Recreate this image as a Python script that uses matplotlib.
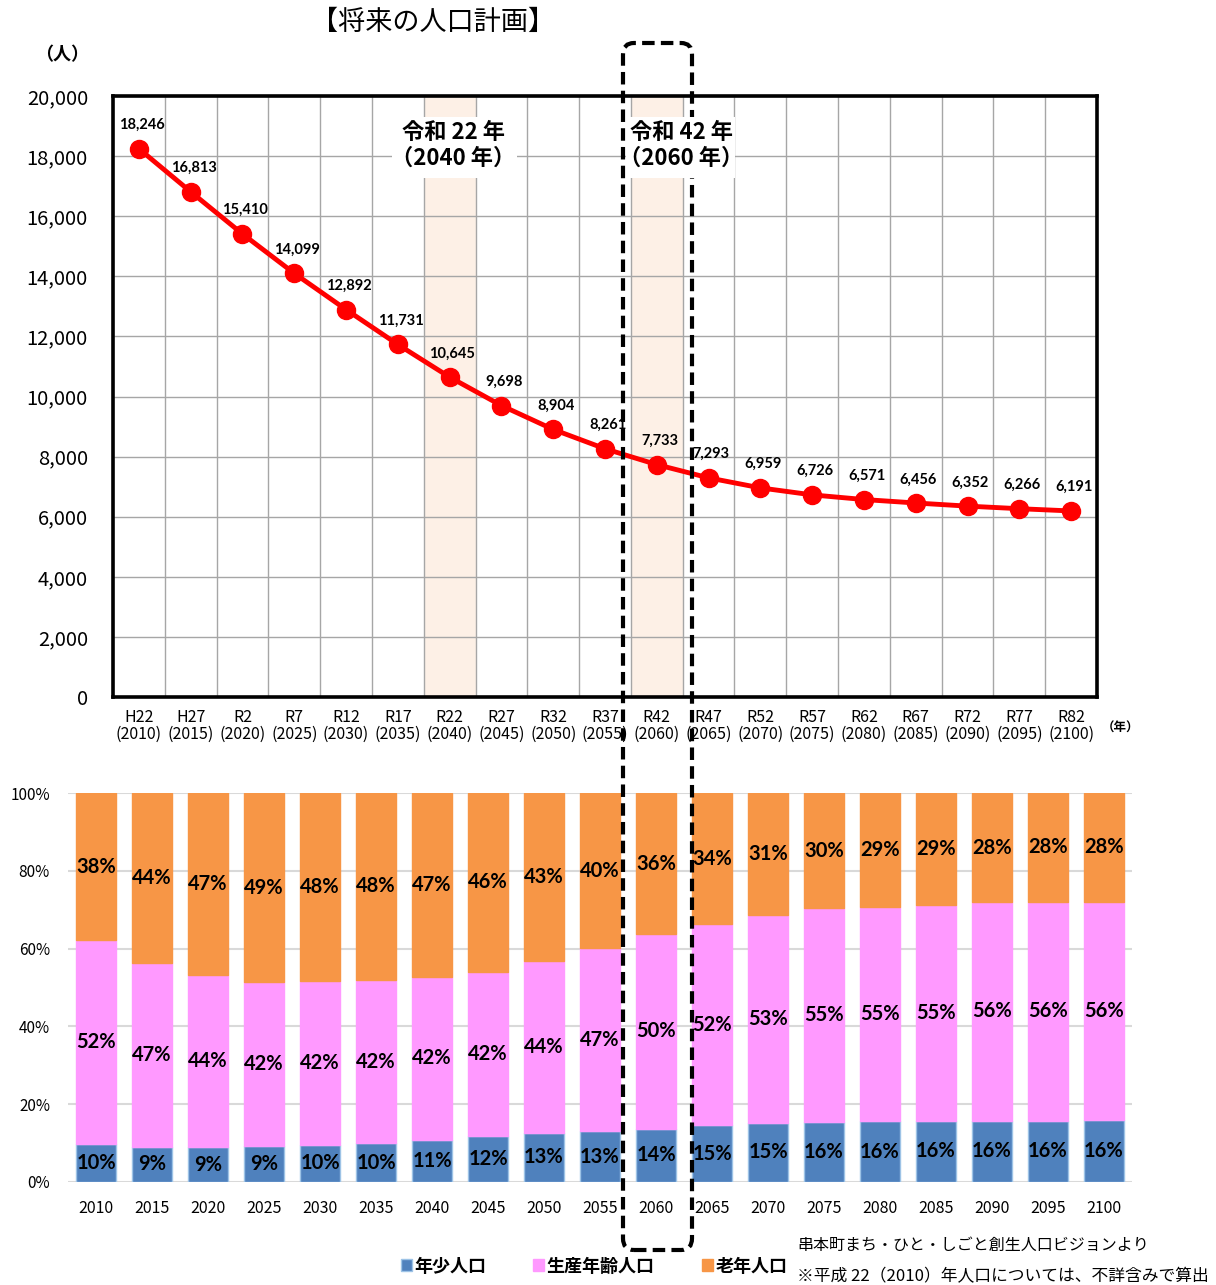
import matplotlib
matplotlib.use("Agg")
import matplotlib.pyplot as plt
from matplotlib.patches import FancyBboxPatch, Patch, Rectangle
import numpy as np

plt.rcParams['font.family'] = ['Noto Sans CJK JP', 'DejaVu Sans']

# ---------------- data ----------------
wareki = ["H22", "H27", "R2", "R7", "R12", "R17", "R22", "R27", "R32", "R37",
          "R42", "R47", "R52", "R57", "R62", "R67", "R72", "R77", "R82"]
years = [2010, 2015, 2020, 2025, 2030, 2035, 2040, 2045, 2050, 2055,
         2060, 2065, 2070, 2075, 2080, 2085, 2090, 2095, 2100]
population = [18246, 16813, 15410, 14099, 12892, 11731, 10645, 9698, 8904, 8261,
              7733, 7293, 6959, 6726, 6571, 6456, 6352, 6266, 6191]

young = [9.7, 9.1, 8.9, 9.3, 9.6, 9.9, 10.9, 11.7, 12.6, 13.1,
         13.7, 14.6, 15.2, 15.5, 15.6, 15.7, 15.8, 15.8, 15.9]
working = [52.4, 47.1, 44.2, 42.1, 42.0, 42.1, 41.7, 42.4, 44.1, 47.0,
           50.0, 51.6, 53.4, 54.9, 55.2, 55.4, 56.1, 56.3, 56.2]
elderly = [37.9, 43.8, 46.9, 48.6, 48.4, 48.0, 47.4, 45.9, 43.3, 39.9,
           36.3, 33.8, 31.4, 29.6, 29.2, 28.9, 28.1, 27.9, 27.9]

series_names = ["年少人口", "生産年齢人口", "老年人口"]
series_colors = ["#4f81bd", "#ff99ff", "#f79646"]
highlight_idx = [6, 10]
highlight_text = ["令和 22 年\n（2040 年）", "令和 42 年\n（2060 年）"]

W, H = 1216, 1285
fig = plt.figure(figsize=(W / 100, H / 100), dpi=100)

def fx(px):
    return px / W

def fy(py):
    return 1 - py / H

# ---------------- top chart ----------------
ax1 = fig.add_axes([fx(113), fy(697), fx(1097) - fx(113), fy(96) - fy(697)])
x = np.arange(len(population))
ax1.set_xlim(-0.5, len(population) - 0.5)
ax1.set_ylim(0, 20000)
ax1.set_yticks(np.arange(0, 20001, 2000))
ax1.set_yticklabels([f"{v:,}" for v in range(0, 20001, 2000)], fontsize=14.5)
ax1.set_xticks(x)
ax1.set_xticklabels([f"{w}\n({y})" for w, y in zip(wareki, years)], fontsize=11.5,
                    linespacing=0.95)
ax1.set_xticks(np.arange(-0.5, len(population), 1), minor=True)
ax1.tick_params(axis='both', which='both', length=0)
ax1.tick_params(axis='y', pad=18)
ax1.tick_params(axis='x', pad=9)
ax1.grid(False)
ax1.grid(True, which='minor', axis='x', color='#a6a6a6', lw=1)
ax1.grid(True, which='major', axis='y', color='#a6a6a6', lw=1)
ax1.set_axisbelow(True)
for s in ax1.spines.values():
    s.set_linewidth(2.6)
    s.set_color('black')

for i in highlight_idx:
    ax1.axvspan(i - 0.5, i + 0.5, color='#fdf0e6', zorder=0.5, lw=0)

ax1.plot(x, population, color='#ff0000', lw=3.5, marker='o', ms=13,
         markeredgecolor='#ff0000', zorder=3)
for xi, v in zip(x, population):
    ax1.annotate(f"{v:,}", (xi, v), xytext=(2, 12), textcoords='offset points',
                 ha='center', va='bottom', fontsize=10.5, fontweight='bold',
                 family=['Lato', 'DejaVu Sans'], zorder=4)

# white label boxes (x-extent relative to the highlighted category)
for i, txt, dx, (bx0, bx1) in zip(highlight_idx, highlight_text, [0.07, 0.47],
                                  [(-1.11, 1.30), (-0.59, 1.51)]):
    fig.add_artist(Rectangle((i + bx0, 17270), bx1 - bx0, 2030, transform=ax1.transData,
                             facecolor='white', edgecolor='none', zorder=10.5))
    fig.text(i + dx, 18350, txt, ha='center', va='center', fontsize=16,
             fontweight='bold', linespacing=1.15, zorder=11, transform=ax1.transData)

fig.text(fx(433), fy(22), "【将来の人口計画】", ha='center', va='center', fontsize=19.5)
fig.text(fx(62), fy(55), "（人）", ha='center', va='center', fontsize=13, fontweight='bold')
fig.text(fx(1121), fy(728), "（年）", ha='center', va='center', fontsize=9, fontweight='bold')

# ---------------- bottom chart ----------------
ax2 = fig.add_axes([fx(68), fy(1182), fx(1132) - fx(68), fy(793) - fy(1182)])
ax2.set_xlim(-0.5, len(years) - 0.5)
ax2.set_ylim(0, 100)
bottom = np.zeros(len(years))
for vals, name, col in zip([young, working, elderly], series_names, series_colors):
    vals = np.array(vals)
    ec = '#9dc3e6' if name == "年少人口" else col
    ax2.bar(x, vals, bottom=bottom, width=0.72, color=col, edgecolor=ec,
            lw=1, label=name, zorder=2)
    for xi, b, v in zip(x, bottom, vals):
        ax2.text(xi, b + v / 2, f"{v:.0f}%", ha='center', va='center',
                 fontsize=14.5, fontweight='bold', family=['Lato', 'DejaVu Sans'], zorder=3)
    bottom = bottom + vals

ax2.set_yticks(np.arange(0, 101, 20))
ax2.set_yticklabels([f"{v}%" for v in range(0, 101, 20)], fontsize=11)
ax2.set_xticks(x)
ax2.set_xticklabels([str(y) for y in years], fontsize=11.5)
ax2.tick_params(axis='both', length=0)
ax2.tick_params(axis='y', pad=13)
ax2.tick_params(axis='x', pad=13)
ax2.grid(True, axis='y', color='#d9d9d9', lw=1.5)
ax2.set_axisbelow(True)
for s in ax2.spines.values():
    s.set_visible(False)

leg_handles = [Patch(facecolor=c, edgecolor='#9dc3e6' if i == 0 else c)
               for i, c in enumerate(series_colors)]
fig.legend(leg_handles, series_names, loc='center',
           bbox_to_anchor=(fx(594), fy(1266)), ncol=3, frameon=False,
           handlelength=0.6, handleheight=0.6, handletextpad=0.15,
           columnspacing=2.6, prop={'size': 13, 'weight': 'bold',
                                    'family': ['Noto Sans CJK JP', 'DejaVu Sans']})

fig.text(fx(797), fy(1245), "串本町まち・ひと・しごと創生人口ビジョンより",
         ha='left', va='center', fontsize=11.5)
fig.text(fx(797), fy(1277), "※平成 22（2010）年人口については、不詳含みで算出",
         ha='left', va='center', fontsize=12.1)

# dashed highlight frame spanning both charts
rect = FancyBboxPatch((fx(623), fy(1250)), fx(692) - fx(623), fy(43) - fy(1250),
                      boxstyle="round,pad=0,rounding_size=0.009",
                      transform=fig.transFigure, fill=False, edgecolor='black',
                      lw=3, linestyle=(0, (3, 1.5)), zorder=10)
fig.add_artist(rect)

fig.savefig("out.png", dpi=100)
